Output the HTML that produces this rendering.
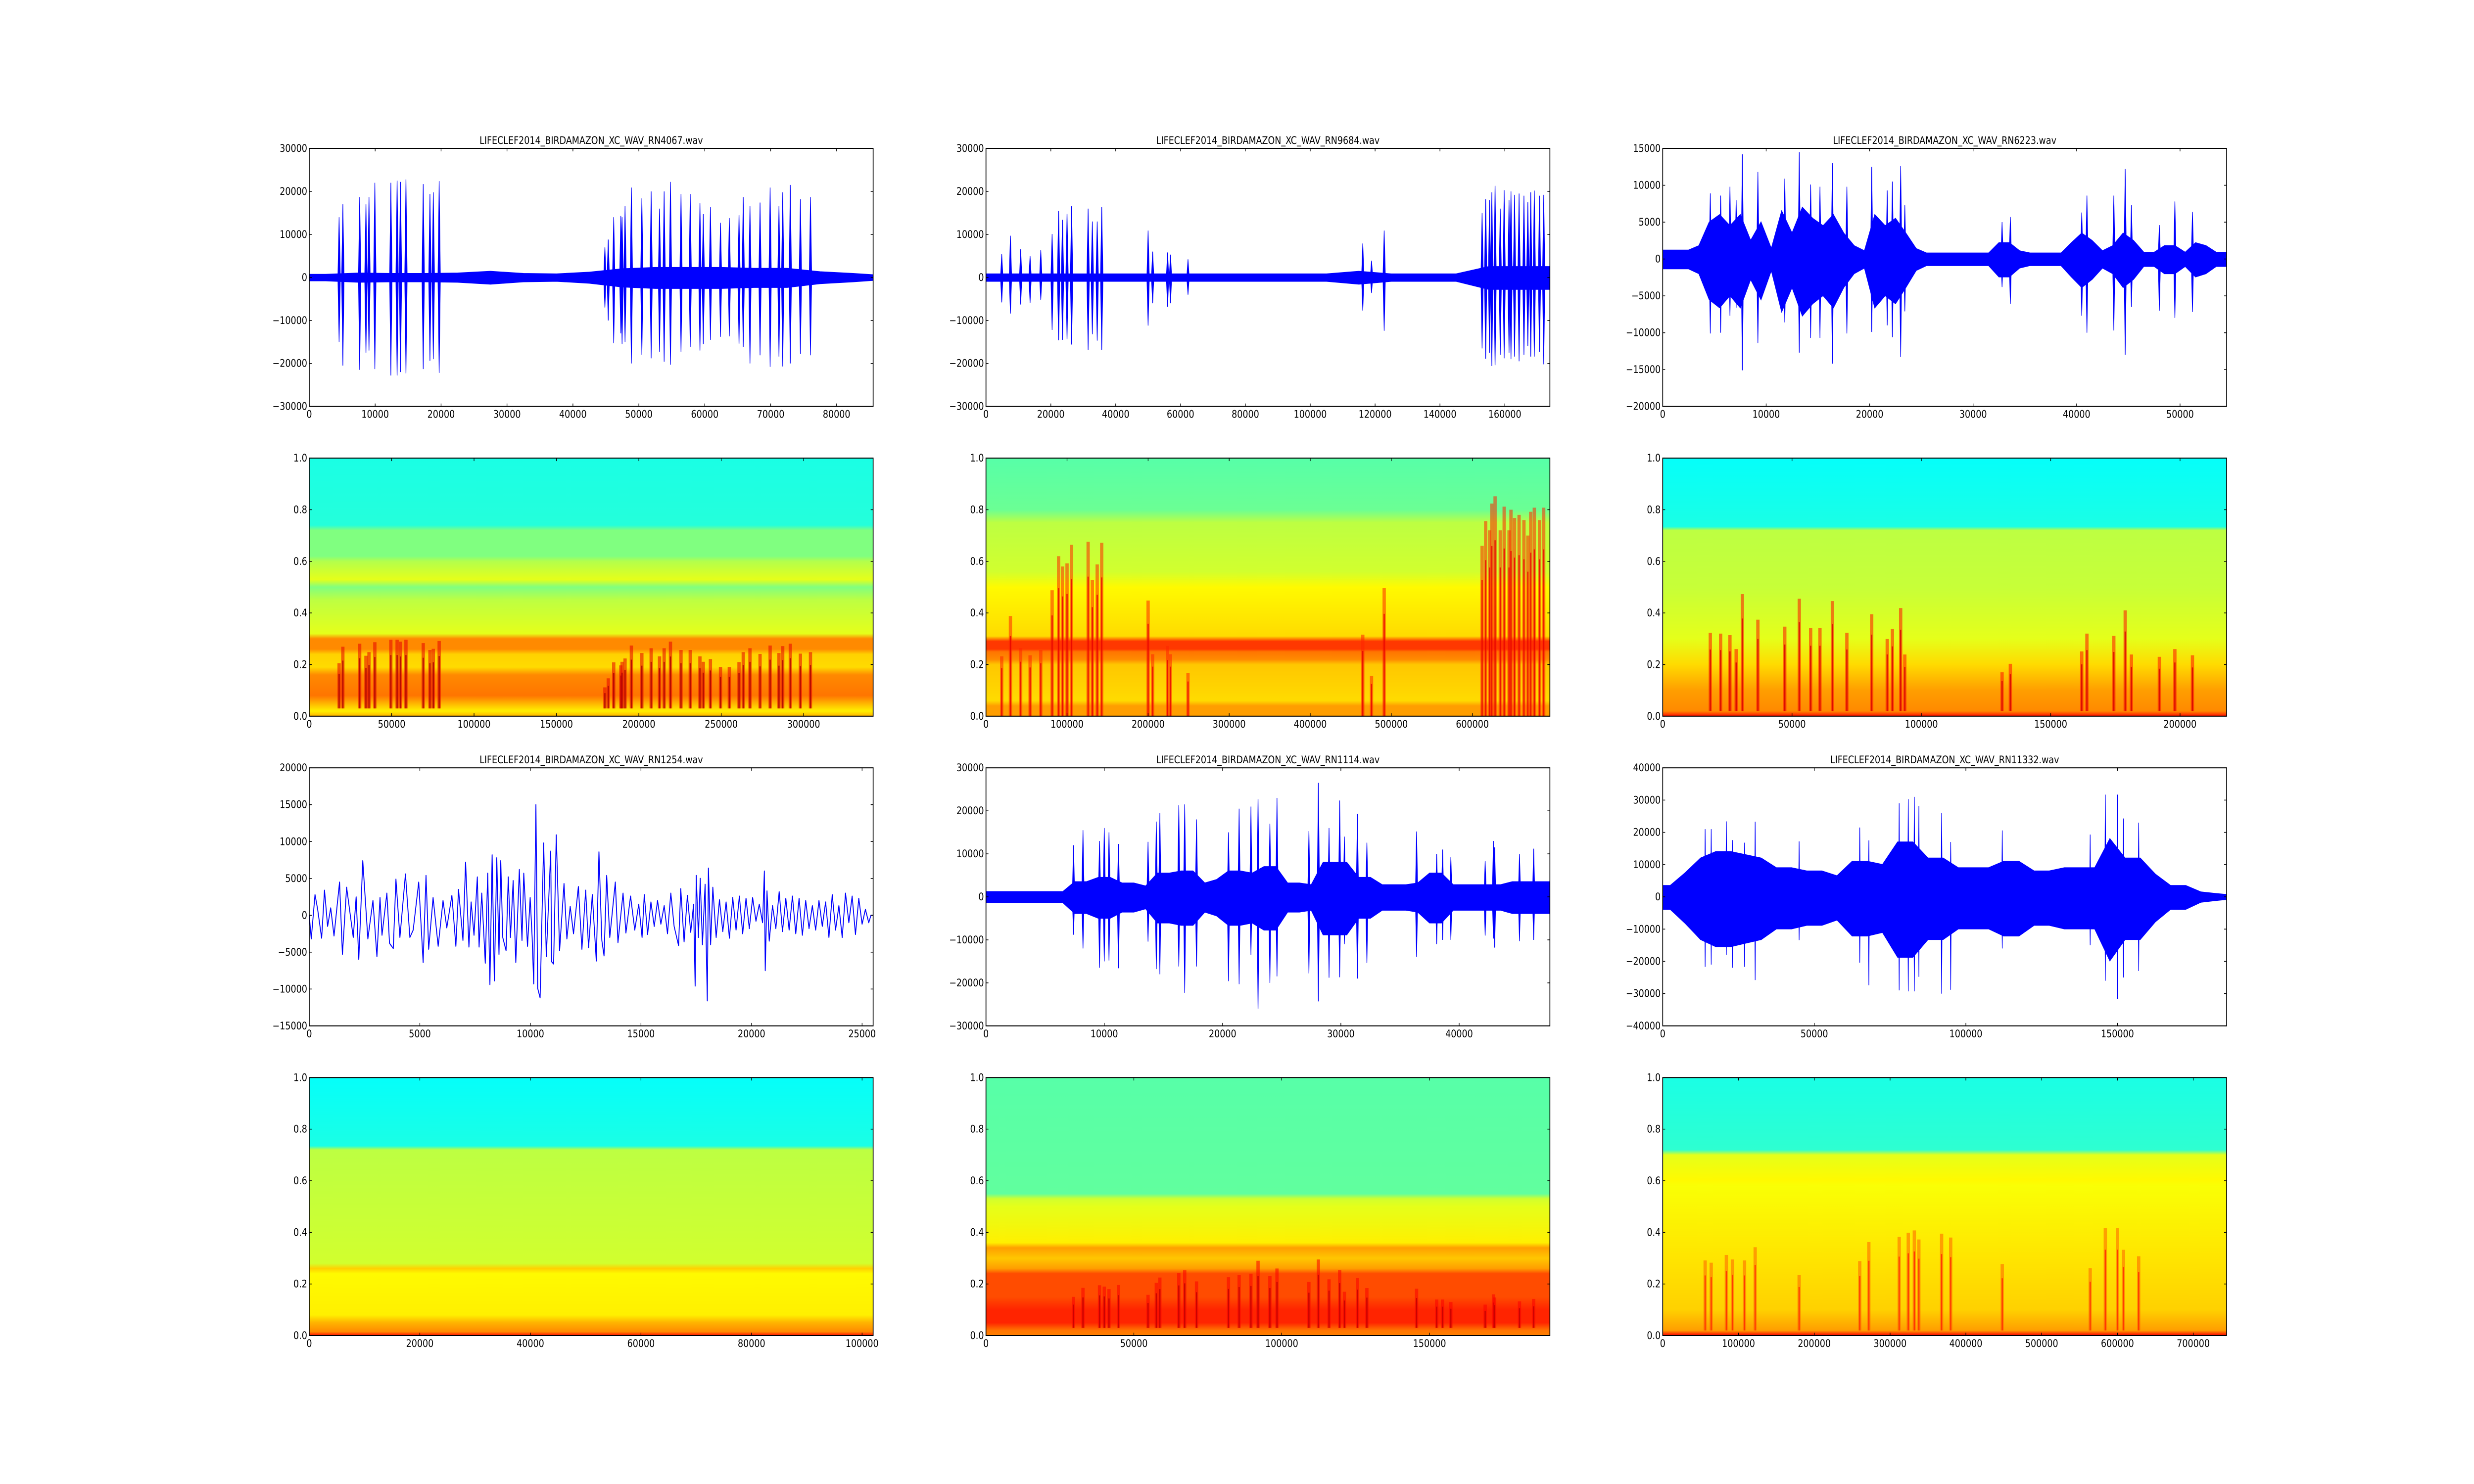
<!DOCTYPE html>
<html><head><meta charset="utf-8">
<style>
html,body{margin:0;padding:0;background:#fff;overflow:hidden;width:100vw;height:100vh;}
svg{display:block;width:100vw;height:100vh;}
text{font-family:"DejaVu Sans","Liberation Sans",sans-serif;font-size:21px;fill:#000;}
</style></head>
<body>
<svg id="fig" xmlns="http://www.w3.org/2000/svg" viewBox="0 0 6000 3000" preserveAspectRatio="none">
<rect x="0" y="0" width="6000" height="3000" fill="#fff"/>
<defs id="defs"></defs>
</svg>
<script>
// ---------- data: waveform titles & ranges ----------
const titles = ["LIFECLEF2014_BIRDAMAZON_XC_WAV_RN4067.wav","LIFECLEF2014_BIRDAMAZON_XC_WAV_RN9684.wav","LIFECLEF2014_BIRDAMAZON_XC_WAV_RN6223.wav","LIFECLEF2014_BIRDAMAZON_XC_WAV_RN1254.wav","LIFECLEF2014_BIRDAMAZON_XC_WAV_RN1114.wav","LIFECLEF2014_BIRDAMAZON_XC_WAV_RN11332.wav"];
const xMaxWave = [85550, 173900, 54500, 25500, 47670, 186000];
const yMinWave = [-30000, -30000, -20000, -15000, -30000, -40000];
const yMaxWave = [30000, 30000, 15000, 20000, 30000, 40000];
const yStepWave = [10000, 10000, 5000, 5000, 10000, 10000];
const xStepWave = [10000, 20000, 10000, 5000, 10000, 50000];
const xStepSpec = [50000, 100000, 50000, 20000, 50000, 100000];

// spikes: [sample, max, min]
const spikes1 = [[4530,14000,-15000],[5100,17000,-20500],[7650,18700,-21500],[8600,17000,-17500],[9060,18700,-17000],[9950,22000,-21300],[12380,22000,-22800],[13330,22500,-22800],[13840,22200,-22000],[14670,22800,-22300],[17290,21700,-21300],[18310,19400,-19400],[18820,19800,-19000],[19710,22400,-22200],[44850,7000,-7000],[45360,8800,-10000],[46190,14000,-15300],[47270,14300,-13000],[47460,14000,-15500],[47910,16600,-15000],[48870,20900,-20000],[50460,18400,-18000],[51870,20000,-18800],[53140,16000,-17300],[53840,20000,-19600],[54800,22200,-20300],[56400,19400,-17300],[57800,19400,-16200],[59270,17300,-17000],[59780,14700,-15500],[60860,16400,-14500],[62390,12700,-13800],[63730,13800,-13700],[65200,14500,-15400],[65840,18700,-16200],[66860,16600,-20000],[68390,17400,-18100],[69920,20900,-20800],[71260,16600,-18400],[71830,19800,-20700],[72980,21500,-20000],[74510,18200,-17800],[76040,18700,-18100]];
const spikes2 = [[4860,5400,-5800],[7540,9700,-8400],[10700,6600,-6300],[13600,5000,-5900],[16900,6400,-5200],[20400,10100,-12200],[22400,15500,-14600],[23600,13400,-14500],[25000,14800,-14300],[26400,16600,-15600],[31500,16000,-16900],[32800,13000,-13200],[34300,13000,-14700],[35700,16400,-16800],[50000,10900,-11200],[51400,6000,-6000],[56000,5800,-6800],[56900,5300,-6000],[62300,4200,-4000],[116200,7900,-7700],[118900,3900,-3600],[122800,10900,-12400],[153000,15000,-16500],[154100,18200,-18900],[155300,18000,-17500],[156000,19800,-20600],[157000,21300,-20400],[158600,16000,-18000],[159800,20300,-18800],[161300,18000,-17500],[161900,20000,-19000],[163000,19200,-18400],[164400,19500,-19500],[165900,19000,-18000],[167100,17500,-16000],[168000,19800,-18400],[169100,20200,-18400],[170700,19000,-17300],[172000,19200,-20200]];
const spikes3 = [[4600,8900,-10100],[5600,8600,-10000],[6500,9800,-7700],[7100,8000,-6600],[7700,14200,-15100],[9200,11800,-11400],[11800,10900,-8600],[13200,14500,-12700],[14300,10100,-10700],[15200,9800,-10700],[16400,13000,-14200],[17800,9800,-10100],[20200,12500,-9900],[21700,9300,-9000],[22200,10500,-10600],[23000,12600,-13300],[23400,7300,-7100],[32800,5000,-3800],[33600,5700,-6100],[40500,6300,-7700],[41000,8600,-10000],[43600,8600,-9700],[44700,12200,-13000],[45300,7300,-6500],[48000,4600,-7000],[49500,7800,-8000],[51200,6400,-7200]];
const spikes4 = [];
const spikes5 = [[7400,12000,-8800],[8200,15500,-12000],[9600,13000,-16500],[10000,16000,-15000],[10400,15000,-14800],[11200,12300,-16600],[13700,12800,-10400],[14400,17500,-16800],[14700,19500,-18000],[16300,21300,-16200],[16800,21500,-22300],[17800,18000,-16200],[20500,15000,-19600],[21400,20500,-20300],[22400,21000,-13500],[23000,22700,-26000],[24000,17000,-20000],[24600,23000,-18500],[27300,15300,-17800],[28100,26500,-24300],[29000,16000,-18800],[29900,22400,-18700],[30300,14000,-11000],[31400,19300,-19000],[32200,12600,-15400],[36400,15200,-14000],[38100,10000,-11000],[38600,11000,-10000],[39300,9300,-10000],[42200,8300,-9000],[42900,13000,-9700],[43000,11500,-11800],[45100,10000,-10300],[46300,11200,-10000]];
const spikes6 = [[14000,21000,-21700],[16000,21000,-21000],[21000,23400,-18000],[23000,17600,-22000],[27000,16800,-21700],[30500,23300,-25800],[45000,17200,-13400],[65000,21500,-20400],[68000,17500,-27400],[78000,29000,-29000],[81000,30300,-29300],[83000,31000,-29300],[84500,28200,-24800],[92000,26000,-30000],[95000,17000,-28800],[112000,20600,-16000],[141000,19300,-15000],[146000,31700,-26000],[150000,31700,-31700],[152000,24300,-25000],[157000,23000,-23000]];

// noise envelopes: bin step and upper amplitude per bin
const envStep = [5000, 10000, 1000, 1000, 1000, 5000];
const env1 = [700,1000,900,900,1000,1400,900,800,1200,2000,2300,2300,2300,2100,2100,1300,900,600];
const env2 = [800,800,800,800,800,800,800,800,800,800,800,1400,800,800,800,2500,2500,2500];
const env3 = [1200,1200,1200,1800,5000,6000,4500,6000,2500,5000,1400,6500,3500,7000,5500,4500,6000,3500,1800,1100,6000,4500,5500,3500,1400,800,800,800,800,800,800,800,2200,2200,1100,800,800,800,800,2200,3500,2500,1100,1800,3500,2500,900,900,1800,1800,900,2200,1800,900,900];
const env4 = [];
const env5 = [1200,1200,1200,1200,1200,1200,1200,3500,3500,4500,4500,3200,3200,2500,5500,5500,6000,6000,3200,4000,6000,6000,5500,7000,7000,3200,3200,2800,8000,8000,8000,4500,4500,2800,2800,2800,3200,5500,5500,2800,2800,2800,2800,2800,3500,3500,3500,3500];
const env6 = [3500,7500,12000,14000,14000,13000,12000,9000,9000,8000,8000,6500,11000,11000,10000,17000,17000,12000,12000,9000,9000,9000,11000,11000,8000,8000,9000,9000,9000,18000,12000,12000,7000,3500,3500,1500,1000,700];

// RN1254 line: [sample, value]
const line4 = [[0,0],[90,-3200],[260,2800],[380,800],[560,-3100],[690,3400],[830,-1500],[970,1000],[1120,-2800],[1370,4500],[1500,-5300],[1690,3800],[1990,-3000],[2120,2500],[2240,-6000],[2420,7400],[2650,-3200],[2880,2000],[3060,-5600],[3200,2400],[3290,-2700],[3510,3000],[3630,-3800],[3800,-4500],[3920,4900],[4100,-3000],[4350,5600],[4550,-3000],[4700,-2000],[4950,4500],[5150,-6400],[5280,5400],[5400,-4600],[5600,2400],[5830,-4200],[6050,2000],[6220,-1700],[6450,2700],[6630,-4200],[6750,3500],[6950,-3400],[7070,7200],[7220,-4300],[7320,1800],[7450,-2700],[7600,5200],[7680,-4300],[7800,3000],[7960,-6500],[8070,5700],[8170,-9400],[8270,8200],[8370,-8900],[8480,7800],[8580,-5300],[8660,7400],[8750,-3000],[8900,-4800],[9000,5200],[9100,-3000],[9220,4700],[9340,-6400],[9500,6200],[9620,-3400],[9700,5700],[9870,-4200],[9990,2400],[10080,-3000],[10150,-9300],[10250,15000],[10330,-9900],[10440,-11200],[10600,9800],[10720,-5600],[10920,8700],[10960,-6300],[11050,-6600],[11170,10900],[11320,-4800],[11520,4300],[11650,-3200],[11800,1200],[11950,-2500],[12170,3900],[12330,-4600],[12500,3400],[12630,-4400],[12800,2800],[12980,-6200],[13100,8600],[13230,-3400],[13330,-5500],[13450,5400],[13590,-3000],[13840,4500],[13960,-3700],[14190,3000],[14320,-2400],[14530,2600],[14720,-2000],[14900,1500],[15050,-3000],[15150,2800],[15300,-2600],[15450,1800],[15600,-1500],[15750,2000],[15900,-1200],[16050,1300],[16200,-2500],[16350,3000],[16500,-1500],[16700,-4100],[16800,3600],[16950,-3600],[17100,2700],[17250,-2300],[17380,1500],[17450,-9600],[17500,5400],[17600,-3000],[17680,5000],[17780,-4000],[17900,4200],[18000,-11600],[18050,6400],[18150,-4000],[18250,3800],[18400,-3000],[18550,2100],[18700,-2200],[18850,1800],[19000,-3100],[19150,2400],[19300,-2000],[19450,2600],[19600,-2500],[19750,2300],[19900,-1800],[20050,2400],[20200,-800],[20350,1500],[20500,-1000],[20580,6000],[20620,-7500],[20700,3300],[20800,-3500],[20950,1300],[21100,-1800],[21250,3200],[21400,-2200],[21550,2300],[21700,-2000],[21850,2600],[22000,-2500],[22150,2300],[22300,-2700],[22450,2000],[22600,-1800],[22750,1300],[22900,-2000],[23050,2000],[23200,-1500],[23350,1800],[23500,-3000],[23650,2800],[23800,-2000],[23950,1300],[24100,-3000],[24250,3000],[24400,-1000],[24550,2600],[24700,-2600],[24850,2300],[25000,-1200],[25150,800],[25300,-1000],[25400,0],[25500,0]];

// spectrogram band stops: [freqFraction, colourLevel]
const bands1 = [[0,0.7],[0.02,0.64],[0.05,0.7],[0.08,0.76],[0.16,0.74],[0.19,0.66],[0.24,0.67],[0.26,0.74],[0.3,0.74],[0.32,0.6],[0.45,0.56],[0.5,0.5],[0.53,0.6],[0.6,0.55],[0.62,0.5],[0.72,0.5],[0.74,0.41],[1,0.4]];
const bands2 = [[0,0.72],[0.04,0.72],[0.06,0.66],[0.2,0.68],[0.22,0.74],[0.25,0.76],[0.26,0.82],[0.29,0.82],[0.31,0.66],[0.5,0.63],[0.56,0.58],[0.75,0.56],[0.8,0.48],[1,0.46]];
const bands3 = [[0,0.86],[0.02,0.74],[0.1,0.72],[0.2,0.66],[0.3,0.6],[0.5,0.57],[0.72,0.56],[0.735,0.4],[1,0.38]];
const bands4 = [[0,0.86],[0.015,0.74],[0.05,0.7],[0.08,0.64],[0.24,0.63],[0.26,0.67],[0.28,0.58],[0.72,0.56],[0.735,0.4],[1,0.38]];
const bands5 = [[0,0.75],[0.02,0.76],[0.05,0.84],[0.1,0.84],[0.15,0.8],[0.24,0.8],[0.26,0.72],[0.3,0.68],[0.34,0.72],[0.36,0.64],[0.5,0.6],[0.53,0.58],[0.55,0.47],[1,0.46]];
const bands6 = [[0,0.88],[0.02,0.72],[0.1,0.67],[0.3,0.65],[0.58,0.62],[0.6,0.63],[0.7,0.6],[0.72,0.42],[1,0.4]];
// streak params per spectrogram: [fLow, fSpanPerFullScale, level]
const streak1 = [0.03, 0.35, 0.9];
const streak2 = [0.0, 1.2, 0.84];
const streak3 = [0.02, 0.45, 0.86];
const streak4 = [0.02, 0.2, 0.8];
const streak5 = [0.03, 0.3, 0.88];
const streak6 = [0.02, 0.5, 0.78];

// ---------- drawing ----------
const NS = "http://www.w3.org/2000/svg";
const svg = document.getElementById('fig');
const defs = document.getElementById('defs');
const colX = [750, 2391.2, 4032.4], W = 1367.6;
const rowY = [300, 926.1, 1552.2, 2178.3], H = 521.7;
const spikesAll = [spikes1,spikes2,spikes3,spikes4,spikes5,spikes6];
const envAll = [env1,env2,env3,env4,env5,env6];
const bandsAll = [bands1,bands2,bands3,bands4,bands5,bands6];
const streakAll = [streak1,streak2,streak3,streak4,streak5,streak6];

function el(tag, attrs, parent){ const e=document.createElementNS(NS,tag); for(const k in attrs) e.setAttribute(k,attrs[k]); (parent||svg).appendChild(e); return e; }
function jet(v){ const c=t=>Math.round(255*Math.max(0,Math.min(1,1.5-Math.abs(4*v-t)))); return `rgb(${c(3)},${c(2)},${c(1)})`; }
function fmt(v, dec){ const s = dec? Math.abs(v).toFixed(1) : String(Math.abs(Math.round(v))); return (v<0?'\u2212':'')+s; }

function axes(g, x0, y0, xmax, ymin, ymax, xstep, ystep, dec, namePrefix){
  const sx=v=>x0+v/xmax*W, sy=v=>y0+H-(v-ymin)/(ymax-ymin)*H;
  const frame = el('rect',{x:x0,y:y0,width:W,height:H,fill:'none',stroke:'#000','stroke-width':2},g);
  
  
  for(let v=0; v<=xmax+1e-9; v+=xstep){
    const x=sx(v);
    el('line',{x1:x,x2:x,y1:y0+H,y2:y0+H-6,stroke:'#000','stroke-width':1.5},g);
    el('line',{x1:x,x2:x,y1:y0,y2:y0+6,stroke:'#000','stroke-width':1.5},g);
    const t=el('text',{x:x,y:y0+H+23,'text-anchor':'middle'},g);
    t.textContent=fmt(v,false);
    
    
  }
  const n=Math.round((ymax-ymin)/ystep);
  for(let i=0;i<=n;i++){
    const v=ymin+i*ystep, y=sy(v);
    el('line',{x1:x0,x2:x0+6,y1:y,y2:y,stroke:'#000','stroke-width':1.5},g);
    el('line',{x1:x0+W,x2:x0+W-6,y1:y,y2:y,stroke:'#000','stroke-width':1.5},g);
    const t=el('text',{x:x0-5,y:y+7,'text-anchor':'end'},g);
    t.textContent=fmt(v,dec);
    
    
  }
}

for(let p=0;p<6;p++){
  const col=p%3, wr=p<3?0:2, sr=wr+1;
  const x0=colX[col];
  // ----- waveform -----
  let y0=rowY[wr];
  const xmax=xMaxWave[p], ymin=yMinWave[p], ymax=yMaxWave[p];
  const sx=v=>x0+v/xmax*W, sy=v=>y0+H-(v-ymin)/(ymax-ymin)*H;
  const g=el('g',{});
  
  
  const clip=el('clipPath',{id:'cw'+p},defs); el('rect',{x:x0,y:y0,width:W,height:H},clip);
  const gd=el('g',{'clip-path':'url(#cw'+p+')'},g);
  const env=envAll[p], st=envStep[p];
  if(env.length){
    const pts=[];
    pts.push([0,env[0]]);
    env.forEach((a,i)=>pts.push([Math.min(xmax,(i+0.5)*st),a]));
    pts.push([xmax,env[env.length-1]]);
    let up=pts.map(d=>`${sx(d[0])},${sy(d[1])}`).join(' ');
    let lo=pts.slice().reverse().map(d=>`${sx(d[0])},${sy(-d[1]*1.1)}`).join(' ');
    const poly=el('polygon',{points:up+' '+lo,fill:'#0000ff',stroke:'#0000ff','stroke-width':2},gd);
    
    
  }
  spikesAll[p].forEach(s=>{
    const x=sx(s[0]), hw=p===5?1.5:3;
    const sp=el('polygon',{points:`${x-hw},${sy(0)} ${x},${sy(s[1])} ${x+hw},${sy(0)} ${x},${sy(s[2])}`,fill:'#0000ff',stroke:'#0000ff','stroke-width':1.5},gd);
    
    
  });
  if(p===3){
    const pl=el('polyline',{points:line4.map(d=>`${sx(d[0])},${sy(d[1])}`).join(' '),fill:'none',stroke:'#0000ff','stroke-width':2.2,'stroke-linejoin':'round'},gd);
    
    
  }
  axes(g,x0,y0,xmax,ymin,ymax,xStepWave[p],yStepWave[p],false,'waveform-'+(p+1));
  const tt=el('text',{x:x0+W/2,y:y0-9,'text-anchor':'middle'},g);
  tt.textContent=titles[p];
  
  

  // ----- spectrogram -----
  y0=rowY[sr];
  const smax=xmax*4;
  const fx=v=>x0+v/smax*W, fy=f=>y0+H-f*H;
  const gs=el('g',{});
  
  
  const grad=el('linearGradient',{id:'gs'+p,x1:0,y1:1,x2:0,y2:0},defs);
  bandsAll[p].forEach(b=>el('stop',{offset:b[0],'stop-color':jet(b[1])},grad));
  const img=el('rect',{x:x0,y:y0,width:W,height:H,fill:'url(#gs'+p+')'},gs);
  
  
  const sp=streakAll[p];
  spikesAll[p].forEach(s=>{
    const amp=Math.max(s[1],-s[2])/ymax;
    const fTop=Math.min(0.95, sp[0]+amp*sp[1]);
    const r=el('rect',{x:fx(s[0]*4)-4,y:fy(fTop),width:8,height:fy(sp[0])-fy(fTop),fill:jet(sp[2]),opacity:0.55},gs);
    
    
    const r2=el('rect',{x:fx(s[0]*4)-1.5,y:fy(fTop*0.8),width:3,height:fy(sp[0])-fy(fTop*0.8),fill:jet(Math.min(1,sp[2]+0.06)),opacity:0.8},gs);
    
    
  });
  axes(gs,x0,y0,smax,0,1,xStepSpec[p],0.2,true,'spectrogram-'+(p+1));
}
</script>
</body></html>
